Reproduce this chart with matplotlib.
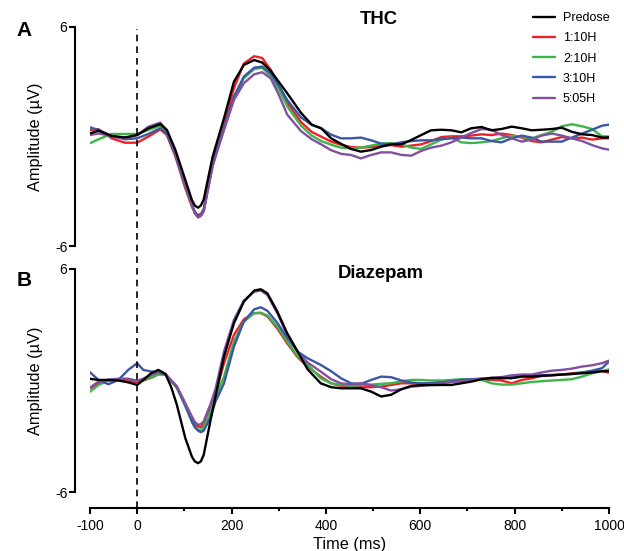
import matplotlib
matplotlib.use("Agg")
import matplotlib.pyplot as plt
from matplotlib.ticker import FixedLocator

plt.rcParams['font.family'] = ['Liberation Sans', 'DejaVu Sans']
plt.rcParams['axes.unicode_minus'] = False

# Series names and colours
labels = ['Predose', '1:10H', '2:10H', '3:10H', '5:05H']
colors = ['#000000', '#ec2227', '#3db54a', '#3a56a5', '#8150a0']

# A: THC (time in ms, amplitude in uV)
t_thc = [-100, -82, -54, -26, 0, 24, 49, 63, 81, 102, 116, 122, 129, 135, 141,
         160, 184, 205, 226, 248, 265, 283, 300, 318, 347, 370, 390, 411, 432,
         453, 474, 496, 517, 538, 560, 581, 602, 623, 645, 666, 687, 708, 730,
         751, 772, 794, 815, 836, 857, 879, 900, 921, 943, 964, 985, 1000]
thc_predose = [0.17, 0.32, 0.03, -0.05, 0.08, 0.45, 0.68, 0.36, -0.74, -2.38,
               -3.48, -3.78, -3.9, -3.78, -3.45, -1.1, 1.0, 3.0, 3.92, 4.19,
               4.05, 3.6, 3.0, 2.37, 1.3, 0.65, 0.45, -0.1, -0.4, -0.68,
               -0.83, -0.74, -0.56, -0.43, -0.43, -0.19, 0.08, 0.34, 0.37, 0.34,
               0.23, 0.45, 0.52, 0.34, 0.41, 0.54, 0.45, 0.34, 0.37, 0.41,
               0.48, 0.26, 0.12, 0.08, -0.06, -0.05]
thc_110 = [0.36, 0.4, -0.1, -0.34, -0.34, 0.0, 0.39, 0.08, -1.1, -2.84,
           -3.85, -4.15, -4.3, -4.25, -4.0, -1.6, 0.63, 2.64, 4.0, 4.4,
           4.3, 3.65, 2.8, 1.85, 0.8, 0.25, -0.01, -0.28, -0.45, -0.58,
           -0.61, -0.58, -0.5, -0.47, -0.56, -0.5, -0.43, -0.25, -0.03, 0.01,
           0.01, 0.05, 0.12, 0.08, 0.16, 0.08, -0.06, -0.25, -0.32, -0.17,
           -0.03, -0.1, -0.06, -0.17, -0.1, -0.1]
thc_210 = [-0.37, -0.15, 0.14, 0.14, 0.14, 0.36, 0.58, 0.21, -1.0, -2.75,
           -3.75, -4.2, -4.43, -4.35, -4.1, -1.5, 0.45, 2.09, 3.19, 3.7,
           3.77, 3.3, 2.6, 1.65, 0.6, 0.05, -0.25, -0.45, -0.61, -0.65,
           -0.61, -0.5, -0.39, -0.36, -0.43, -0.61, -0.68, -0.43, -0.17, -0.06,
           -0.32, -0.36, -0.32, -0.25, -0.1, 0.05, -0.03, -0.1, 0.08, 0.26,
           0.56, 0.67, 0.56, 0.41, 0.01, 0.0]
thc_310 = [0.5, 0.36, 0.03, -0.15, -0.1, 0.14, 0.45, 0.14, -1.0, -2.7,
           -3.7, -4.12, -4.36, -4.28, -4.0, -1.4, 0.45, 2.18, 3.28, 3.77,
           3.83, 3.46, 2.8, 2.0, 1.05, 0.63, 0.45, 0.1, -0.1, -0.1,
           -0.06, -0.21, -0.39, -0.43, -0.32, -0.25, -0.21, -0.21, -0.14, -0.1,
           -0.06, -0.1, -0.1, -0.25, -0.32, -0.1, 0.05, -0.06, -0.28, -0.28,
           -0.28, -0.06, 0.16, 0.37, 0.59, 0.65]
thc_505 = [0.08, 0.17, 0.03, -0.1, 0.08, 0.54, 0.76, 0.32, -0.92, -2.7,
           -3.75, -4.2, -4.43, -4.35, -4.1, -1.6, 0.36, 2.0, 2.92, 3.41,
           3.52, 3.19, 2.3, 1.2, 0.3, -0.15, -0.43, -0.75, -0.95, -1.01,
           -1.2, -1.01, -0.87, -0.87, -1.01, -1.05, -0.79, -0.61, -0.5, -0.32,
           -0.06, 0.19, 0.41, 0.37, 0.08, -0.1, -0.28, -0.17, 0.05, 0.16,
           0.05, -0.1, -0.25, -0.47, -0.65, -0.72]

# B: Diazepam
t_dzp = [-100, -82, -61, -40, -19, 0, 13, 30, 45, 60, 72, 84, 102, 116, 122,
         129, 135, 141, 155, 166, 184, 205, 226, 248, 262, 276, 297, 318, 340,
         361, 389, 411, 432, 453, 474, 496, 517, 538, 560, 581, 602, 623, 645,
         666, 687, 708, 730, 751, 772, 794, 815, 836, 857, 879, 900, 921, 943,
         964, 985, 1000]
dzp_predose = [0.09, 0.03, 0.03, 0.0, -0.1, -0.24, 0.03, 0.4, 0.57, 0.35,
               -0.35, -1.3, -3.1, -4.1, -4.35, -4.45, -4.35, -4.0, -2.2, -0.85,
               1.29, 3.08, 4.24, 4.84, 4.91, 4.69, 3.71, 2.54, 1.56, 0.61,
               -0.15, -0.36, -0.42, -0.42, -0.42, -0.6, -0.86, -0.77, -0.47, -0.29,
               -0.25, -0.25, -0.24, -0.24, -0.15, -0.06, 0.07, 0.14, 0.14, 0.12,
               0.21, 0.21, 0.25, 0.28, 0.32, 0.35, 0.39, 0.43, 0.5, 0.5]
dzp_110 = [-0.42, -0.15, 0.0, 0.03, -0.02, -0.09, 0.0, 0.15, 0.35, 0.32,
           0.0, -0.35, -1.31, -2.03, -2.33, -2.48, -2.5, -2.35, -1.5, -0.7,
           0.93, 2.45, 3.29, 3.62, 3.63, 3.45, 2.8, 2.0, 1.25, 0.75,
           0.21, -0.15, -0.29, -0.33, -0.36, -0.36, -0.33, -0.24, -0.15, -0.15,
           -0.18, -0.15, -0.08, -0.08, 0.0, 0.07, 0.07, 0.03, 0.0, -0.15,
           0.03, 0.12, 0.25, 0.28, 0.32, 0.39, 0.43, 0.46, 0.5, 0.43]
dzp_210 = [-0.6, -0.24, 0.0, 0.09, 0.09, -0.02, 0.05, 0.15, 0.32, 0.32,
           -0.05, -0.4, -1.4, -2.21, -2.5, -2.65, -2.65, -2.5, -1.7, -0.9,
           0.21, 2.09, 3.17, 3.62, 3.65, 3.5, 2.9, 2.1, 1.3, 0.85,
           0.12, -0.15, -0.24, -0.29, -0.25, -0.22, -0.18, -0.15, -0.04, 0.03,
           0.03, 0.0, 0.0, 0.03, 0.07, 0.07, 0.03, -0.15, -0.22, -0.22,
           -0.15, -0.08, -0.04, 0.0, 0.03, 0.07, 0.21, 0.39, 0.5, 0.6]
dzp_310 = [0.44, 0.03, -0.2, 0.03, 0.57, 0.93, 0.57, 0.48, 0.44, 0.32,
           0.0, -0.35, -1.31, -2.21, -2.5, -2.7, -2.78, -2.7, -2.0, -1.13,
           -0.15, 1.82, 3.17, 3.83, 3.94, 3.75, 3.1, 2.3, 1.55, 1.2,
           0.84, 0.5, 0.12, -0.15, -0.18, 0.03, 0.21, 0.18, 0.0, -0.11,
           -0.15, -0.15, -0.11, -0.04, 0.03, 0.07, 0.1, 0.07, 0.1, 0.18,
           0.25, 0.25, 0.28, 0.3, 0.32, 0.35, 0.43, 0.53, 0.66, 1.02]
dzp_505 = [-0.38, -0.06, 0.05, 0.09, 0.09, -0.02, 0.1, 0.3, 0.44, 0.36,
           0.0, -0.3, -1.22, -1.94, -2.22, -2.39, -2.35, -2.2, -1.3, -0.45,
           1.56, 3.26, 4.3, 4.78, 4.84, 4.6, 3.62, 2.45, 1.56, 0.97,
           0.48, 0.07, -0.15, -0.22, -0.15, -0.25, -0.36, -0.54, -0.47, -0.33,
           -0.29, -0.22, -0.15, -0.08, -0.04, 0.03, 0.1, 0.14, 0.18, 0.28,
           0.32, 0.32, 0.43, 0.53, 0.57, 0.64, 0.75, 0.82, 0.93, 1.07]

W, H = 624, 551
fig = plt.figure(figsize=(W / 100, H / 100), dpi=100)
ax_a = fig.add_axes([90 / W, 1 - 246 / H, 519 / W, 219 / H])
ax_b = fig.add_axes([90 / W, 1 - 492 / H, 519 / W, 223 / H])

panels = [
    (ax_a, t_thc, [thc_predose, thc_110, thc_210, thc_310, thc_505]),
    (ax_b, t_dzp, [dzp_predose, dzp_110, dzp_210, dzp_310, dzp_505]),
]

for ax, t, series in panels:
    for lab, col, y in zip(labels, colors, series):
        ax.plot(t, y, color=col, lw=1.7, label=lab,
                zorder=4 if col == '#000000' else 3,
                solid_joinstyle='round', solid_capstyle='round')
    ax.set_xlim(-100, 1000)
    ax.set_ylim(-6, 6)
    ax.set_yticks([-6, 6])
    ax.set_yticklabels(['-6', '6'])
    for s in ['top', 'right']:
        ax.spines[s].set_visible(False)
    ax.spines['left'].set_position(('outward', 11))
    ax.spines['left'].set_linewidth(1.5)
    ax.tick_params(axis='y', length=4, width=1.5, pad=1.2, labelsize=10)
    ax.set_ylabel('Amplitude (µV)', fontsize=11.7)
    ax.yaxis.set_label_coords(-0.09, 0.5)
    ax.patch.set_visible(False)

# panel A has no x axis
ax_a.spines['bottom'].set_visible(False)
ax_a.set_xticks([])

ax_b.spines['bottom'].set_position(('outward', 11.5))
ax_b.spines['bottom'].set_linewidth(1.5)
ax_b.set_xticks([-100, 0, 200, 400, 600, 800, 1000])
ax_b.xaxis.set_minor_locator(FixedLocator([100, 300, 500, 700, 900]))
ax_b.tick_params(axis='x', which='major', length=4.5, width=1.5, pad=3.5, labelsize=10)
ax_b.tick_params(axis='x', which='minor', length=2.5, width=1.5)
ax_b.set_xlabel('Time (ms)', fontsize=11.7)
ax_b.xaxis.set_label_coords(0.5, -0.2)

# stimulus onset, running through both panels
ax_b.axvline(0, ymin=-16 / 223, ymax=(492 - 29) / 223, color='k', lw=1.2,
             ls=(0, (4, 3)), clip_on=False, zorder=5)

ax_a.legend(loc='upper left', bbox_to_anchor=(533 / W, 1 - 12 / H),
            bbox_transform=fig.transFigure, frameon=False, fontsize=9,
            handlelength=1.75, handletextpad=0.65, labelspacing=0.66,
            borderpad=0, borderaxespad=0)

fig.text(379 / W, 1 - 20 / H, 'THC', ha='center', va='center',
         fontsize=13.3, fontweight='bold')
fig.text(381 / W, 1 - 274 / H, 'Diazepam', ha='center', va='center',
         fontsize=13.3, fontweight='bold')
fig.text(24 / W, 1 - 30 / H, 'A', ha='center', va='center',
         fontsize=15, fontweight='bold')
fig.text(24 / W, 1 - 280 / H, 'B', ha='center', va='center',
         fontsize=15, fontweight='bold')

fig.savefig('out.png', dpi=100)
